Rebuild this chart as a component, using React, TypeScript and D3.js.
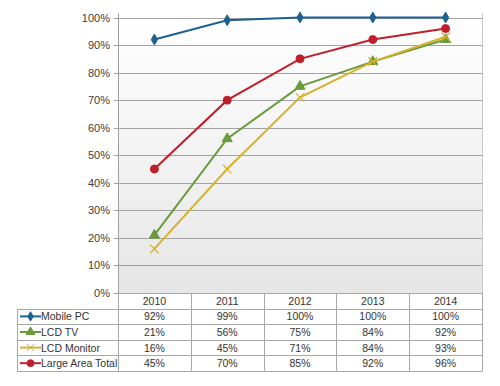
import { useEffect, useRef } from 'react';
import * as d3 from 'd3';

const years = ['2010', '2011', '2012', '2013', '2014'];
const mobilePc = [92, 99, 100, 100, 100];
const lcdTv = [21, 56, 75, 84, 92];
const lcdMonitor = [16, 45, 71, 84, 93];
const largeAreaTotal = [45, 70, 85, 92, 96];
const yTicks = [0, 10, 20, 30, 40, 50, 60, 70, 80, 90, 100];

type MarkerKind = 'diamond' | 'triangle' | 'cross' | 'circle';

interface Series {
  name: string;
  values: number[];
  color: string;
  marker: MarkerKind;
}

const series: Series[] = [
  { name: 'Mobile PC', values: mobilePc, color: '#1d6190', marker: 'diamond' },
  { name: 'LCD TV', values: lcdTv, color: '#699a3c', marker: 'triangle' },
  { name: 'LCD Monitor', values: lcdMonitor, color: '#d6b22c', marker: 'cross' },
  { name: 'Large Area Total', values: largeAreaTotal, color: '#bf1e2a', marker: 'circle' }
];

const WIDTH = 500;
const HEIGHT = 386;
const FONT = '"Liberation Sans", Arial, sans-serif';

const symbolFor = (kind: MarkerKind, scale = 1) => {
  switch (kind) {
    case 'diamond':
      return d3.symbol().type(d3.symbolDiamond).size(34 * scale);
    case 'triangle':
      return d3.symbol().type(d3.symbolTriangle).size(44 * scale);
    case 'cross':
      return d3.symbol().type(d3.symbolX).size(50 * scale);
    default:
      return d3.symbol().type(d3.symbolCircle).size(50 * scale);
  }
};

export default function App() {
  const svgRef = useRef<SVGSVGElement | null>(null);

  useEffect(() => {
    if (!svgRef.current) return;
    const svg = d3.select(svgRef.current);
    svg.selectAll('*').remove();

    const left = 118;
    const right = 482;
    const top = 17.5;
    const bottom = 293;
    const tableLeft = 17;
    const rowH = 15.6;

    const x = d3.scaleBand<string>().domain(years).range([left, right]);
    const y = d3.scaleLinear().domain([0, 100]).range([bottom, top]);
    const cx = (year: string) => (x(year) ?? 0) + x.bandwidth() / 2;

    const defs = svg.append('defs');
    const grad = defs
      .append('linearGradient')
      .attr('id', 'plotBg')
      .attr('x1', 0)
      .attr('y1', 0)
      .attr('x2', 0)
      .attr('y2', 1);
    grad.append('stop').attr('offset', '0%').attr('stop-color', '#ffffff');
    grad.append('stop').attr('offset', '100%').attr('stop-color', '#e6e6e6');

    svg.append('rect').attr('width', WIDTH).attr('height', HEIGHT).attr('fill', '#ffffff');

    svg
      .append('rect')
      .attr('x', left)
      .attr('y', top)
      .attr('width', right - left)
      .attr('height', bottom - top)
      .attr('fill', 'url(#plotBg)');

    // gridlines
    svg
      .append('g')
      .selectAll('line')
      .data(yTicks.filter(t => t > 0))
      .join('line')
      .attr('x1', left)
      .attr('x2', right)
      .attr('y1', d => Math.round(y(d)) + 0.5)
      .attr('y2', d => Math.round(y(d)) + 0.5)
      .attr('stroke', '#a2a2a2')
      .attr('stroke-width', 1.2);

    // right border of plot
    svg
      .append('line')
      .attr('x1', right + 0.5)
      .attr('x2', right + 0.5)
      .attr('y1', top - 4)
      .attr('y2', bottom)
      .attr('stroke', '#c8c8c8');

    // y axis
    const axis = svg.append('g');
    axis
      .append('line')
      .attr('x1', left + 0.5)
      .attr('x2', left + 0.5)
      .attr('y1', top - 4)
      .attr('y2', bottom)
      .attr('stroke', '#a0a0a0');
    axis
      .selectAll('line.tick')
      .data(yTicks)
      .join('line')
      .attr('class', 'tick')
      .attr('x1', left - 4)
      .attr('x2', left)
      .attr('y1', d => Math.round(y(d)) + 0.5)
      .attr('y2', d => Math.round(y(d)) + 0.5)
      .attr('stroke', '#a0a0a0');
    axis
      .selectAll('text')
      .data(yTicks)
      .join('text')
      .attr('x', left - 8)
      .attr('y', d => y(d) + 4)
      .attr('text-anchor', 'end')
      .attr('font-family', FONT)
      .attr('font-size', 11)
      .attr('fill', '#404040')
      .text(d => `${d}%`);

    // lines and markers
    const line = d3
      .line<number>()
      .x((_, i) => cx(years[i]))
      .y(d => y(d));

    series.forEach(s => {
      const g = svg.append('g');
      g.append('path')
        .attr('d', line(s.values) ?? '')
        .attr('fill', 'none')
        .attr('stroke', s.color)
        .attr('stroke-width', 2);
      g.selectAll('path.marker')
        .data(s.values)
        .join('path')
        .attr('class', 'marker')
        .attr('transform', (d, i) => `translate(${cx(years[i])},${y(d)})`)
        .attr('d', symbolFor(s.marker)() ?? '')
        .attr('fill', s.marker === 'cross' ? 'none' : s.color)
        .attr('stroke', s.color)
        .attr('stroke-width', s.marker === 'cross' ? 1.2 : 1);
    });

    // data table
    const table = svg.append('g');
    const tableBottom = bottom + rowH * 5;
    const border = '#a8a8a8';

    // horizontal lines
    table
      .selectAll('line.h')
      .data(d3.range(6))
      .join('line')
      .attr('class', 'h')
      .attr('x1', i => (i === 0 ? left : tableLeft))
      .attr('x2', right)
      .attr('y1', i => Math.round(bottom + rowH * i) + 0.5)
      .attr('y2', i => Math.round(bottom + rowH * i) + 0.5)
      .attr('stroke', border);

    // vertical lines
    const cols = [left, ...years.map(yr => (x(yr) ?? 0) + x.bandwidth())];
    table
      .selectAll('line.v')
      .data(cols)
      .join('line')
      .attr('class', 'v')
      .attr('x1', d => Math.round(d) + 0.5)
      .attr('x2', d => Math.round(d) + 0.5)
      .attr('y1', bottom)
      .attr('y2', Math.round(tableBottom) + 0.5)
      .attr('stroke', border);
    table
      .append('line')
      .attr('x1', tableLeft + 0.5)
      .attr('x2', tableLeft + 0.5)
      .attr('y1', Math.round(bottom + rowH) + 0.5)
      .attr('y2', Math.round(tableBottom) + 0.5)
      .attr('stroke', border);

    const textAttrs = (sel: d3.Selection<SVGTextElement, any, any, any>) =>
      sel.attr('font-family', FONT).attr('font-size', 10.5).attr('fill', '#333333');

    // header
    table
      .selectAll('text.year')
      .data(years)
      .join('text')
      .attr('class', 'year')
      .attr('x', d => cx(d))
      .attr('y', bottom + rowH / 2 + 4)
      .attr('text-anchor', 'middle')
      .call(textAttrs)
      .text(d => d);

    series.forEach((s, r) => {
      const rowMid = bottom + rowH * (r + 1) + rowH / 2;
      const row = table.append('g');
      row
        .append('line')
        .attr('x1', 20)
        .attr('x2', 41)
        .attr('y1', rowMid)
        .attr('y2', rowMid)
        .attr('stroke', s.color)
        .attr('stroke-width', 2);
      row
        .append('path')
        .attr('transform', `translate(30.5,${rowMid})`)
        .attr('d', symbolFor(s.marker, 0.75)() ?? '')
        .attr('fill', s.marker === 'cross' ? 'none' : s.color)
        .attr('stroke', s.color);
      row
        .append('text')
        .attr('x', 41)
        .attr('y', rowMid + 4)
        .call(textAttrs)
        .text(s.name);
      row
        .selectAll('text.val')
        .data(s.values)
        .join('text')
        .attr('class', 'val')
        .attr('x', (_, i) => cx(years[i]))
        .attr('y', rowMid + 4)
        .attr('text-anchor', 'middle')
        .call(textAttrs)
        .text(d => `${d}%`);
    });
  }, []);

  return (
    <svg
      ref={svgRef}
      width={WIDTH}
      height={HEIGHT}
      style={{ position: 'absolute', left: 0, top: 0 }}
    />
  );
}
